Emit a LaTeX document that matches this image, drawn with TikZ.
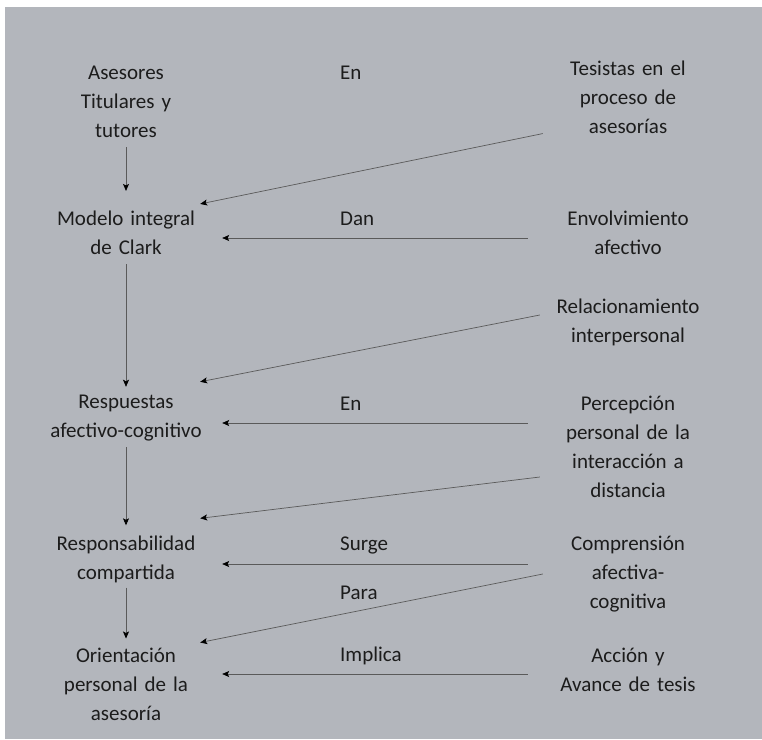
\documentclass[tikz,border=0pt]{standalone}
\usepackage{fontspec}
\setmainfont{Carlito}
\usetikzlibrary{arrows.meta}
\definecolor{fondo}{RGB}{179,182,188}
\definecolor{linea}{RGB}{90,90,90}
\definecolor{texto}{RGB}{28,28,28}
\tikzset{
  concepto/.style={align=center, text width=192pt, inner sep=0pt, font=\fontsize{21}{29}\selectfont, text=texto},
  fuente/.style={align=center, text width=200pt, inner sep=0pt, font=\fontsize{21}{29}\selectfont, text=texto},
  enlace/.style={anchor=west, inner sep=0pt, font=\fontsize{21}{29}\selectfont, text=texto},
  flecha/.style={draw=linea, line width=0.7pt, -{Stealth[length=7pt,width=6pt,inset=1.5pt,color=black]}},
}

\begin{document}
\begin{tikzpicture}[x=1pt,y=-1pt]
  \fill[white] (0,0) rectangle (762,739);
  \fill[fondo] (5,7) rectangle (762,739);
  \useasboundingbox (0,0) rectangle (762,739);
  % columna izquierda
  \node[concepto] (ase) at (126,102) {Asesores\\Titulares y\\tutores};
  \node[concepto] (mod) at (126,233) {Modelo integral\\de Clark};
  \node[concepto] (res) at (126,418) {Respuestas\\afectivo-cognitivo};
  \node[concepto] (resp) at (126,559) {Responsabilidad\\compartida};
  \node[concepto] (ori) at (126,684) {Orientación\\personal de la\\asesoría};
  % columna derecha
  \node[fuente] (tes) at (628,97) {Tesistas en el\\proceso de\\asesorías};
  \node[fuente] (env) at (628,233) {Envolvimiento\\afectivo};
  \node[fuente] (rel) at (628,322) {Relacionamiento\\interpersonal};
  \node[fuente] (per) at (628,447) {Percepción\\personal de la\\interacción a\\distancia};
  \node[fuente] (com) at (628,574) {Comprensión\\afectiva-\\cognitiva};
  \node[fuente] (acc) at (628,670) {Acción y\\Avance de tesis};
  % enlaces
  \node[enlace] (en1) at (340,73) {En};
  \node[enlace] (dan) at (340,219) {Dan};
  \node[enlace] (en2) at (340,404) {En};
  \node[enlace] (sur) at (340,545) {Surge};
  \node[enlace] (par) at (340,593) {Para};
  \node[enlace] (imp) at (340,656) {Implica};
  % flechas verticales
  \draw[flecha] ([yshift=-9pt]ase.south) -- ([yshift=20pt]mod.north);
  \draw[flecha] ([yshift=-9pt]mod.south) -- ([yshift=8pt]res.north);
  \draw[flecha] ([yshift=-6pt]res.south) -- ([yshift=10pt]resp.north);
  \draw[flecha] ([yshift=-5pt]resp.south) -- ([yshift=9pt]ori.north);
  % flechas horizontales
  \draw[flecha] ([yshift=-5pt]env.west) -- ([yshift=-5pt]env.west -| mod.east);
  \draw[flecha] ([yshift=24pt]per.west) -- ([yshift=24pt]per.west -| res.east);
  \draw[flecha] ([yshift=10pt]com.west) -- ([yshift=10pt]com.west -| resp.east);
  \draw[flecha] ([yshift=-4pt]acc.west) -- ([yshift=-4pt]acc.west -| ori.east);
  % flechas diagonales
  \draw[flecha] ([xshift=15pt]tes.south west) -- ([xshift=-22pt,yshift=7pt]mod.north east);
  \draw[flecha] ([xshift=12pt,yshift=7pt]rel.west) -- ([xshift=-22pt,yshift=13pt]res.north east);
  \draw[flecha] ([xshift=12pt,yshift=-30pt]per.west) -- ([xshift=-22pt,yshift=17pt]resp.north east);
  \draw[flecha] ([xshift=15pt]com.west) -- ([xshift=-22pt,yshift=5pt]ori.north east);
\end{tikzpicture}
\end{document}
